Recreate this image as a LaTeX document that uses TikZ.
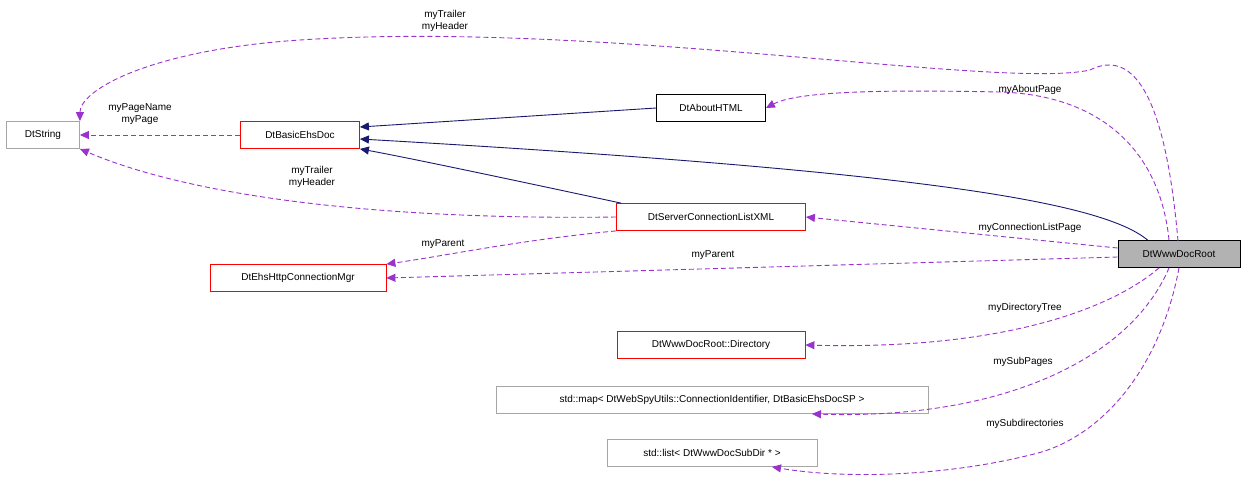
\documentclass[tikz,border=0pt]{standalone}
\usepackage{fontspec}
\setmainfont{Liberation Sans}
\usetikzlibrary{arrows.meta,calc}
\definecolor{navy}{HTML}{191970}
\definecolor{dpurple}{HTML}{9A32CD}
\begin{document}
\begin{tikzpicture}[x=1pt,y=-1pt,line width=0.9pt,
 box/.style={draw,rectangle,line width=0.8pt,minimum height=27pt,inner xsep=6pt,font=\fontsize{10}{11.5}\selectfont},
 gbox/.style={box,draw=gray!70},
 rbox/.style={box,draw=red},
 inh/.style={draw=navy,-{Triangle[length=9pt,width=8pt]}},
 use/.style={draw=dpurple,dashed,dash pattern=on 5pt off 3pt,-{Triangle[length=9pt,width=8pt,fill=dpurple]}},
 lab/.style={font=\fontsize{10}{11.5}\selectfont,align=center,inner sep=0pt}]
\useasboundingbox (0,0) rectangle (1245,488);
\node[gbox,minimum width=73pt] (str) at (43,135) {DtString};
\node[rbox,minimum width=119pt] (base) at (300,135) {DtBasicEhsDoc};
\node[box,minimum width=109pt] (about) at (711,108) {DtAboutHTML};
\node[rbox,minimum width=189pt] (scl) at (711,217) {DtServerConnectionListXML};
\node[rbox,minimum width=176pt] (mgr) at (298,278) {DtEhsHttpConnectionMgr};
\node[box,fill=gray!60,minimum width=122pt] (root) at (1179,254) {DtWwwDocRoot};
\node[rbox,minimum width=188pt] (dir) at (711,345) {DtWwwDocRoot::Directory};
\node[gbox,minimum width=432pt] (map) at (712,400) {std::map< DtWebSpyUtils::ConnectionIdentifier, DtBasicEhsDocSP >};
\node[gbox,minimum width=210pt] (lst) at (712,453) {std::list< DtWwwDocSubDir * >};

\draw[inh] (about.west) -- ($(base.east)+(0,-8)$);
\draw[inh] ($(root.north west)+(30,0)$) .. controls (1100,200) and (900,170) .. ($(base.east)+(0,4)$);
\draw[inh] ($(scl.north)+(-90,0)$) .. controls (560,190) and (420,160) .. (base.south east);

\draw[use] (1178,241) .. controls (1170,150) and (1150,40) .. (1090,70) .. controls (1000,90) and (600,20) .. (300,40) .. controls (150,50) and (80,90) .. (str.north east);
\node[lab] at (445,21) {myTrailer\\myHeader};
\draw[use] (base.west) -- (str.east);
\node[lab] at (140,114) {myPageName\\myPage};
\draw[use] (scl.west) .. controls (400,220) and (200,200) .. (str.south east);
\node[lab] at (312,177) {myTrailer\\myHeader};
\draw[use] (scl.south west) .. controls (520,240) and (450,255) .. (mgr.north east);
\node[lab] at (443,244) {myParent};
\draw[use] ($(root.north)+(-10,0)$) .. controls (1160,150) and (1100,95) .. (1000,92) .. controls (900,90) and (800,90) .. (about.east);
\node[lab] at (1030,90) {myAboutPage};
\draw[use] ($(root.west)+(0,-6)$) -- (scl.east);
\node[lab] at (1030,228) {myConnectionListPage};
\draw[use] ($(root.west)+(0,3)$) -- (mgr.east);
\node[lab] at (713,255) {myParent};
\draw[use] ($(root.south)+(-20,0)$) .. controls (1110,310) and (1000,350) .. (dir.east);
\node[lab] at (1025,308) {myDirectoryTree};
\draw[use] ($(root.south)+(-10,0)$) .. controls (1130,360) and (1000,420) .. ($(map.south)+(100,0)$);
\node[lab] at (1023,362) {mySubPages};
\draw[use] (root.south) .. controls (1160,370) and (1100,440) .. (1030,455) .. controls (950,475) and (850,480) .. ($(lst.south)+(60,0)$);
\node[lab] at (1025,424) {mySubdirectories};
\end{tikzpicture}
\end{document}
